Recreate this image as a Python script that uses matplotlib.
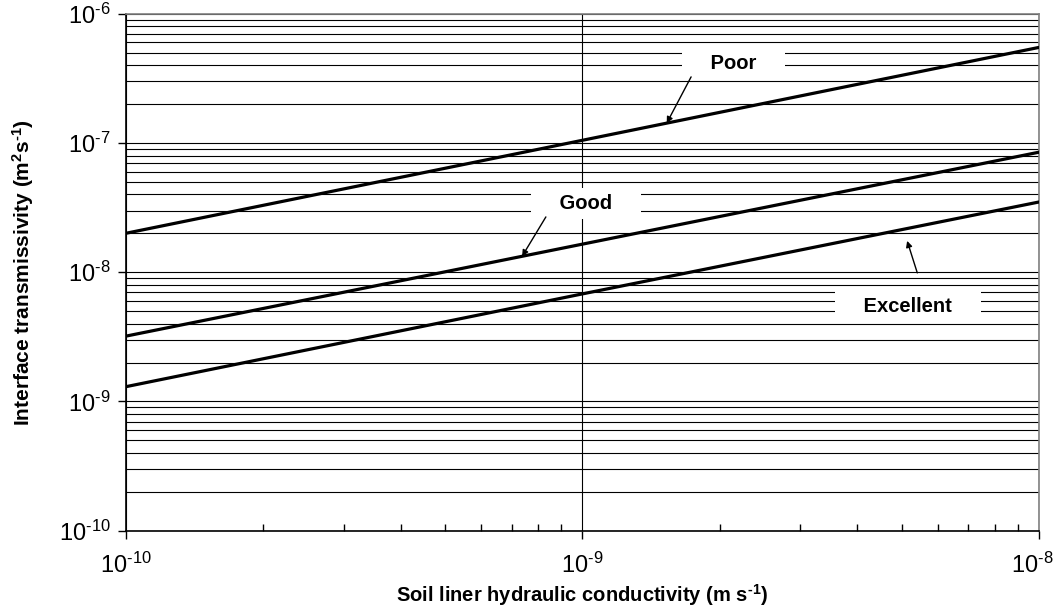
import matplotlib
matplotlib.use("Agg")
import matplotlib.pyplot as plt
import matplotlib.ticker as ticker
import matplotlib.transforms as mtransforms
import numpy as np

plt.rcParams["font.family"] = ["Liberation Sans", "DejaVu Sans"]
plt.rcParams["mathtext.default"] = "regular"

# soil liner hydraulic conductivity (m/s)
k = [1e-10, 1e-9, 1e-8]

# interface transmissivity (m2/s) for each contact condition
theta_poor = [2.0e-8, 1.05e-7, 5.5e-7]
theta_good = [3.2e-9, 1.65e-8, 8.5e-8]
theta_excellent = [1.3e-9, 6.8e-9, 3.5e-8]

labels = ["Poor", "Good", "Excellent"]

x_ticks = [1e-10, 1e-9, 1e-8]
y_ticks = [1e-10, 1e-9, 1e-8, 1e-7, 1e-6]

HY = "\u2010"  # plain hyphen for exponents


def on_line(x, xs, ys):
    # log-log interpolation along one curve
    return 10 ** np.interp(np.log10(x), np.log10(xs), np.log10(ys))


def pow_fmt(v, pos):
    e = int(round(np.log10(v)))
    return "$10^{%s%d}$" % (HY if e < 0 else "", abs(e))


fig = plt.figure(figsize=(10.55, 6.11), dpi=100)
ax = fig.add_axes([0.119, 0.1314, 0.866, 0.846])

for ys in (theta_poor, theta_good, theta_excellent):
    ax.plot(k, ys, color="black", lw=2.3, solid_capstyle="butt", zorder=3)

ax.set_xscale("log")
ax.set_yscale("log")
ax.set_xlim(1e-10, 1e-8)
ax.set_ylim(1e-10, 1e-6)

# horizontal grid on every decade sub-division, vertical only on decades
ax.xaxis.set_major_locator(ticker.FixedLocator(x_ticks))
ax.yaxis.set_major_locator(ticker.FixedLocator(y_ticks))
ax.yaxis.set_minor_locator(ticker.LogLocator(base=10, subs=np.arange(2, 10), numticks=20))
ax.xaxis.set_minor_locator(ticker.LogLocator(base=10, subs=np.arange(2, 10), numticks=20))
ax.xaxis.set_major_formatter(ticker.FuncFormatter(pow_fmt))
ax.yaxis.set_major_formatter(ticker.FuncFormatter(pow_fmt))
ax.yaxis.set_minor_formatter(ticker.NullFormatter())
ax.xaxis.set_minor_formatter(ticker.NullFormatter())
ax.grid(axis="y", which="both", color="black", lw=0.8)
ax.grid(axis="x", which="major", color="black", lw=0.8)
ax.set_axisbelow(True)

ax.tick_params(which="major", direction="out", length=6, width=1, labelsize=17, color="black")
ax.tick_params(axis="x", which="major", pad=10)
ax.tick_params(axis="y", which="major", pad=5)
ax.tick_params(axis="x", which="minor", direction="in", length=5, width=1)
ax.tick_params(axis="y", which="minor", length=0)

# keep the last x label inside the figure
last = ax.xaxis.get_major_ticks()[-1].label1
last.set_transform(last.get_transform() +
                   mtransforms.ScaledTranslation(-0.07, 0, fig.dpi_scale_trans))

for side in ("left", "bottom"):
    ax.spines[side].set_color("black")
    ax.spines[side].set_linewidth(1.2)
for side in ("top", "right"):
    ax.spines[side].set_color("#808080")
    ax.spines[side].set_linewidth(1.2)

ax.set_xlabel("Soil liner hydraulic conductivity (m s$^{%s1}$)" % HY, fontsize=14.5,
              fontweight="bold", labelpad=3)
ax.set_ylabel("Interface transmissivity (m$^{2}$s$^{%s1}$)" % HY, fontsize=15,
              fontweight="bold", labelpad=16)

# callouts: text position, arrow tail, arrow tip
text_pos = [(2.14e-9, 4.09e-7), (1.02e-9, 3.38e-8), (5.16e-9, 5.48e-9)]
arrow_tail = [(1.73e-9, 3.25e-7), (8.32e-10, 2.68e-8), (5.41e-9, 9.89e-9)]
arrow_tip = [(1.53e-9, on_line(1.53e-9, k, theta_poor)),
             (7.38e-10, on_line(7.38e-10, k, theta_good)),
             (5.14e-9, 1.75e-8)]

for lab, tp, tail, tip in zip(labels, text_pos, arrow_tail, arrow_tip):
    ax.text(tp[0], tp[1], "    " + lab + "    ", fontsize=14.5, fontweight="bold",
            ha="center", va="center", zorder=4,
            bbox=dict(boxstyle="square,pad=0.3", fc="white", ec="none"))
    ax.annotate("", xy=tip, xytext=tail, zorder=5,
                arrowprops=dict(arrowstyle="-|>", color="black", lw=1,
                                mutation_scale=9, shrinkA=0, shrinkB=0))

fig.savefig("out.png", dpi=100)
